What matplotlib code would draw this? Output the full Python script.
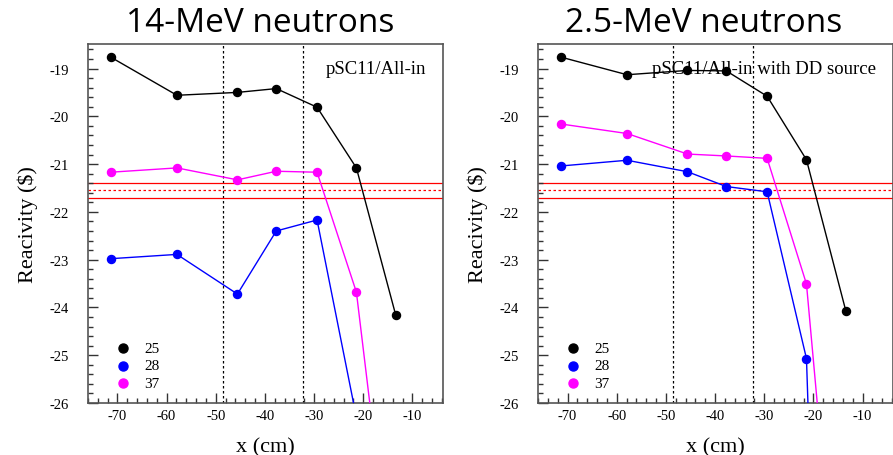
import matplotlib
matplotlib.use("Agg")
import matplotlib.pyplot as plt
from matplotlib.ticker import MultipleLocator

x_pos = [-71.4, -57.9, -45.6, -37.7, -29.4, -21.4, -13.4]

# 14-MeV neutrons
r14_25 = [-18.76, -19.56, -19.50, -19.42, -19.81, -21.08, -24.16]
r14_28 = [-22.98, -22.89, -23.72, -22.40, -22.17, -26.30]
r14_37 = [-21.17, -21.08, -21.33, -21.15, -21.17, -23.68, -30.5]

# 2.5-MeV neutrons
r25_25 = [-18.76, -19.13, -19.04, -19.05, -19.58, -20.91, -24.07]
r25_28 = [-21.04, -20.92, -21.16, -21.47, -21.58, -25.07, -50.0]
r25_37 = [-20.16, -20.36, -20.79, -20.83, -20.88, -23.51, -32.6]

band_center = -21.55
band_low = -21.70
band_high = -21.40
vlines_x = [-48.45, -32.3]

series_labels = ["25", "28", "37"]
series_colors = ["black", "#0000ff", "#ff00ff"]

titles = ["14-MeV neutrons", "2.5-MeV neutrons"]
notes = ["pSC11/All-in", "pSC11/All-in with DD source"]
yticks = [-26, -25, -24, -23, -22, -21, -20, -19]
xticks = [-70, -60, -50, -40, -30, -20, -10]

fig = plt.figure(figsize=(8.93, 4.56), dpi=100)
W = 0.3975
axes = [fig.add_axes([0.0985, 0.114, W, 0.787]),
        fig.add_axes([0.6025, 0.114, W, 0.787])]

data = [[r14_25, r14_28, r14_37], [r25_25, r25_28, r25_37]]
serif = "Liberation Serif"
title_x = [0.2917, 0.7884]

for i, ax in enumerate(axes):
    ax.set_xlim(-76, -3.8)
    ax.set_ylim(-26, -18.49)
    for xv in vlines_x:
        ax.axvline(xv, color="black", ls=(0, (2, 2)), lw=0.9, zorder=1)
    ax.axhline(band_low, color="#ff0000", lw=0.9, zorder=1)
    ax.axhline(band_high, color="#ff0000", lw=0.9, zorder=1)
    ax.axhline(band_center, color="#ff0000", lw=0.9, ls=(0, (2, 2)), zorder=1)
    for vals, c in zip(data[i], series_colors):
        ax.plot(x_pos[:len(vals)], vals, color=c, lw=1.0, marker="o",
                ms=5.8, mfc=c, mec=c, zorder=3, clip_on=True)
    # legend entries
    for k, (lab, c) in enumerate(zip(series_labels, series_colors)):
        yk = -24.85 - 0.37 * k
        ax.plot([-68.9], [yk], marker="o", ms=6.5, color=c, ls="none")
        ax.text(-64.6, yk, lab, fontsize=11, family=serif, va="center", ha="left")
    ax.text(0.952, 0.955, notes[i], transform=ax.transAxes, ha="right", va="top",
            fontsize=13.5, family=serif)
    ax.xaxis.set_major_locator(MultipleLocator(10))
    ax.xaxis.set_minor_locator(MultipleLocator(2))
    ax.yaxis.set_major_locator(MultipleLocator(1))
    ax.yaxis.set_minor_locator(MultipleLocator(0.2))
    ax.tick_params(which="major", direction="in", length=7, width=1, color="#333333",
                   labelsize=10.5, top=False, right=False)
    ax.tick_params(axis="y", which="major", pad=14)
    ax.tick_params(axis="x", which="major", pad=4)
    ax.tick_params(which="minor", direction="in", length=3.5, width=1, color="#333333",
                   top=False, right=False)
    ax.set_yticks(yticks)
    ax.set_yticklabels([str(v) for v in yticks], family=serif)
    ax.set_xticks(xticks)
    ax.set_xticklabels([str(v) for v in xticks], family=serif)
    for s in ax.spines.values():
        s.set_color("#555555")
        s.set_linewidth(1.2)
    ax.set_xlabel("x (cm)", family=serif, fontsize=16, labelpad=11)
    ax.set_ylabel("Reacivity (\\$)", family=serif, fontsize=16, labelpad=8)
    fig.text(title_x[i], 1 - 32 / 456, titles[i], family="Open Sans", fontsize=24,
             ha="center", va="baseline")

fig.savefig("out.png", dpi=100)
